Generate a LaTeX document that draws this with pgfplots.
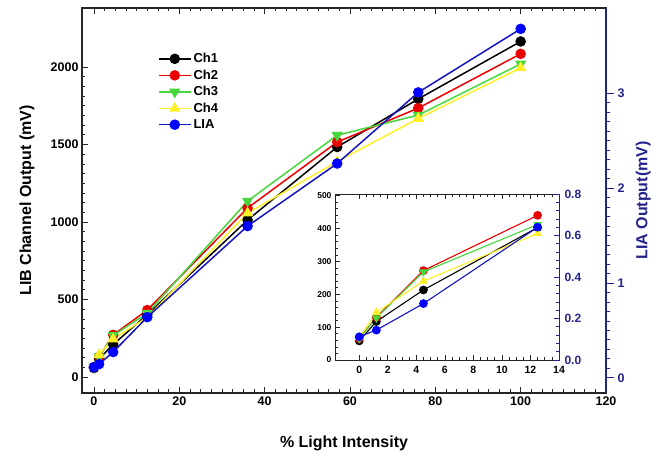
\documentclass[border=0pt]{standalone}
\usepackage{fontspec}
\setmainfont{Liberation Sans}
\usepackage{pgfplots}
\usepackage{pgfplotstable}
\pgfplotsset{compat=1.18}
\definecolor{chred}{RGB}{235,0,0}
\definecolor{chgreen}{RGB}{70,215,60}
\definecolor{chyellow}{RGB}{255,240,40}
\definecolor{lialine}{RGB}{20,20,190}
\definecolor{liamark}{RGB}{0,0,255}
\definecolor{navy}{RGB}{35,35,140}

\pgfplotstableread{
x ch1 ch2 ch3 ch4 lia
0 58 65 65 65 0.112
1.2 117 130 130 145 0.144
4.5 210 272 268 245 0.272
12.5 403 432 412 385 0.64
36 1013 1090 1135 1058 1.60
57 1484 1516 1560 1390 2.26
76 1794 1735 1690 1668 3.01
100 2165 2085 2020 1995 3.68
}\maindata

\pgfplotstableread{
x ch1 ch2 ch3 ch4 lia
0 58 65 65 68 0.112
1.2 117 130 128 145 0.144
4.5 213 272 268 240 0.272
12.5 403 440 412 385 0.64
}\insetdata

\pgfplotsset{
  common/.style={
    scale only axis,
    anchor=south west,
    /pgf/number format/assume math mode=true,
    /pgf/number format/1000 sep={},
    scaled ticks=false,
    tick align=inside,
    axis line style={black!85, line width=1.1pt},
    every tick/.style={black!85, line width=0.8pt},
  },
  ch1/.style={black, line width=1.5pt, mark=*, mark size=4.5pt, mark options={fill=black}},
  ch2/.style={chred, line width=1.5pt, mark=*, mark size=4.5pt, mark options={fill=chred}},
  ch3/.style={chgreen, line width=1.5pt, mark=triangle*, mark size=5pt, mark options={fill=chgreen, rotate=180}},
  ch4/.style={chyellow, line width=1.5pt, mark=triangle*, mark size=5pt, mark options={fill=chyellow}},
  lia/.style={lialine, line width=1.5pt, mark=*, mark size=4.5pt, mark options={fill=liamark, draw=liamark}},
}

\begin{document}
\begin{tikzpicture}[x=1pt,y=1pt]
\useasboundingbox (0,0) rectangle (654,454);
% ---------- main left axis
\begin{axis}[common,
  at={(82pt,61pt)}, width=524pt, height=385pt,
  xmin=-2.8, xmax=120, ymin=-103, ymax=2381,
  xtick={0,20,...,120}, ytick={0,500,...,2000},
  minor x tick num=7, minor y tick num=7,
  ytick pos=left,
  major tick length=6pt, minor tick length=3.5pt,
  ticklabel style={font=\fontsize{12.5}{14}\selectfont\bfseries},
  xlabel={\% Light Intensity},
  ylabel={LIB Channel Output (mV)},
  every axis x label/.style={at={(axis description cs:0.5,-0.13)}, anchor=center, font=\fontsize{16}{18}\selectfont\bfseries},
  every axis y label/.style={at={(axis description cs:-0.105,0.5)}, anchor=center, rotate=90, font=\fontsize{16}{18}\selectfont\bfseries},
  legend image code/.code={\draw[mark repeat=2,mark phase=2,#1] plot coordinates {(0pt,0pt) (16pt,0pt) (32pt,0pt)};},
  legend style={at={(axis description cs:0.139,0.893)}, anchor=north west, draw=none, fill=none,
    font=\fontsize{13}{15}\selectfont\bfseries, row sep=1.6pt},
  legend cell align=left,
]
\addplot[ch1] table[x=x,y=ch1]{\maindata}; \addlegendentry{Ch1}
\addplot[ch2] table[x=x,y=ch2]{\maindata}; \addlegendentry{Ch2}
\addplot[ch3] table[x=x,y=ch3]{\maindata}; \addlegendentry{Ch3}
\addplot[ch4] table[x=x,y=ch4]{\maindata}; \addlegendentry{Ch4}
\addlegendimage{lia} \addlegendentry{LIA}
\end{axis}
% ---------- main right axis
\begin{axis}[common,
  at={(82pt,61pt)}, width=524pt, height=385pt,
  xmin=-2.8, xmax=120, ymin=-0.16, ymax=3.9,
  axis x line=none, axis y line*=right,
  ytick={0,1,2,3}, minor y tick num=9,
  tick align=outside,
  major tick length=8pt, minor tick length=4pt,
  y axis line style={navy, line width=1.1pt},
  every tick/.style={navy, line width=0.8pt},
  yticklabel style={navy, font=\fontsize{12.5}{14}\selectfont\bfseries},
  ylabel={LIA Output(mV)},
  every axis y label/.style={at={(axis description cs:1.071,0.5)}, anchor=center, rotate=90, navy, font=\fontsize{16}{18}\selectfont\bfseries},
]
\addplot[lia] table[x=x,y=lia]{\maindata};
\end{axis}
% ---------- inset left axis
\begin{axis}[common,
  at={(335pt,94pt)}, width=224pt, height=166pt,
  axis background/.style={fill=white},
  xmin=-1.7, xmax=14, ymin=0, ymax=505,
  xtick={0,2,...,14}, ytick={0,100,...,500},
  minor x tick num=3, minor y tick num=4,
  ytick pos=left,
  major tick length=5pt, minor tick length=3pt,
  axis line style={black!85, line width=0.8pt},
  every tick/.style={black!85, line width=0.6pt},
  xticklabel style={font=\fontsize{10.5}{12}\selectfont\bfseries, yshift=-3pt},
  yticklabel style={font=\fontsize{8.5}{10}\selectfont\bfseries},
]
\addplot[ch1, line width=1.1pt, mark size=3.8pt] table[x=x,y=ch1]{\insetdata};
\addplot[ch2, line width=1.1pt, mark size=3.8pt] table[x=x,y=ch2]{\insetdata};
\addplot[ch3, line width=1.1pt, mark size=4pt] table[x=x,y=ch3]{\insetdata};
\addplot[ch4, line width=1.1pt, mark size=4pt] table[x=x,y=ch4]{\insetdata};
\end{axis}
% ---------- inset right axis
\begin{axis}[common,
  at={(335pt,94pt)}, width=224pt, height=166pt,
  xmin=-1.7, xmax=14, ymin=0, ymax=0.8,
  axis x line=none, axis y line*=right,
  ytick={0,0.2,...,0.8}, minor y tick num=4,
  major tick length=5pt, minor tick length=3pt,
  y axis line style={navy, line width=0.8pt},
  every tick/.style={navy, line width=0.6pt},
  yticklabel style={navy, font=\fontsize{12}{14}\selectfont\bfseries, xshift=2pt, /pgf/number format/fixed, /pgf/number format/fixed zerofill, /pgf/number format/precision=1},
]
\addplot[lia, line width=1.1pt, mark size=3.8pt] table[x=x,y=lia]{\insetdata};
\end{axis}
\end{tikzpicture}
\end{document}
